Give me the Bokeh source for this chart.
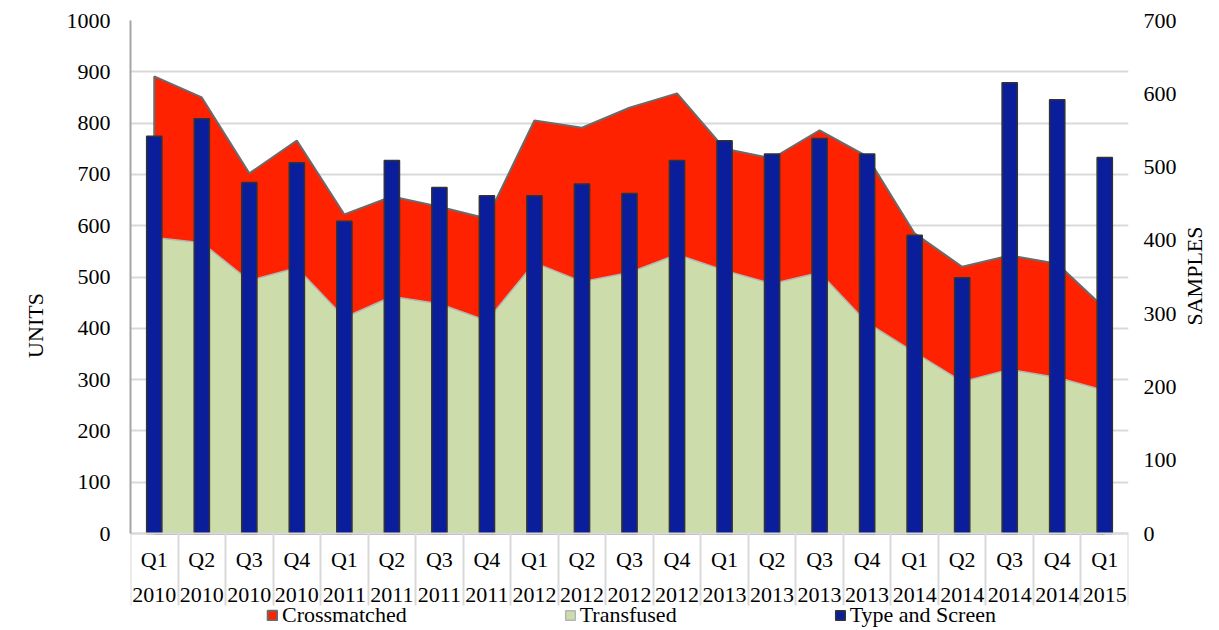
import math
from bokeh.plotting import figure
from bokeh.models import Range1d, LinearAxis, FixedTicker, Legend, LegendItem, Title
from bokeh.embed import file_html
from bokeh.resources import INLINE

quarters = ["Q1", "Q2", "Q3", "Q4", "Q1", "Q2", "Q3", "Q4", "Q1", "Q2", "Q3",
            "Q4", "Q1", "Q2", "Q3", "Q4", "Q1", "Q2", "Q3", "Q4", "Q1"]
years = ["2010", "2010", "2010", "2010", "2011", "2011", "2011", "2011", "2012", "2012", "2012",
         "2012", "2013", "2013", "2013", "2013", "2014", "2014", "2014", "2014", "2015"]
crossmatched = [891, 850, 702, 766, 622, 657, 637, 614, 805, 791, 830,
                858, 750, 731, 786, 735, 585, 520, 542, 526, 439]
transfused = [577, 567, 493, 518, 421, 462, 448, 415, 528, 491, 509,
              544, 513, 487, 509, 411, 353, 296, 320, 304, 279]
type_and_screen = [542, 566, 479, 506, 426, 509, 472, 461, 461, 477, 464,
                   509, 536, 518, 539, 518, 407, 349, 615, 592, 513]

units_ticks = list(range(0, 1001, 100))
samples_ticks = list(range(0, 701, 100))

FONT = "Liberation Serif"
FS = "22px"
n = len(quarters)
x = list(range(1, n + 1))

# the frame reaches below zero so the category labels and legend sit inside it
UNITS_MAX, SAMPLES_MAX = 1000, 700
below = -189
p = figure(frame_width=998, frame_height=610, output_backend="svg", toolbar_location=None,
           x_range=Range1d(0.5, n + 0.5), y_range=Range1d(below, UNITS_MAX),
           min_border_left=130, min_border_right=0, min_border_top=20,
           min_border_bottom=0)
p.extra_y_ranges = {"samples": Range1d(below * SAMPLES_MAX / UNITS_MAX, SAMPLES_MAX)}
p.outline_line_color = None
p.background_fill_color = "white"
p.border_fill_color = "white"

# grid
p.xgrid.visible = False
p.ygrid.grid_line_color = "#d9d9d9"
p.ygrid.grid_line_width = 2
p.ygrid.ticker = FixedTicker(ticks=units_ticks)

# areas
cx = [x[0]] + x + [x[-1]]
cm = p.patch(cx, [0] + crossmatched + [0], fill_color="#ff2200", line_color="#6b6b6b", line_width=2)
tr = p.patch(cx, [0] + transfused + [0], fill_color="#cddcab", line_color="#b4b4b4", line_width=1.5)

# bars
ts = p.vbar(x=x, top=type_and_screen, width=0.32, bottom=0, y_range_name="samples",
            fill_color="#0a1e9c", line_color="#333333", line_width=1.5)


def style_ticks(ax, tick_standoff):
    ax.major_label_text_font = FONT
    ax.major_label_text_font_size = FS
    ax.major_label_text_color = "black"
    ax.major_label_standoff = tick_standoff
    ax.major_tick_line_color = None
    ax.minor_tick_line_color = None
    ax.major_tick_out = 0
    ax.minor_tick_out = 0


# left axis
ya = p.yaxis[0]
ya.ticker = FixedTicker(ticks=units_ticks)
ya.bounds = (0, UNITS_MAX)
style_ticks(ya, 20)
ya.axis_line_color = "#a6a6a6"
ya.axis_line_width = 2
p.add_layout(Title(text="UNITS", align="center", offset=-33, standoff=32,
                   text_font=FONT, text_font_size=FS, text_font_style="normal",
                   text_color="black"), "left")

# right axis
ra = LinearAxis(y_range_name="samples", ticker=FixedTicker(ticks=samples_ticks),
                bounds=(0, SAMPLES_MAX))
style_ticks(ra, 15)
ra.axis_line_color = None
ra.axis_label = "SAMPLES"
ra.axis_label_orientation = math.pi / 2
ra.axis_label_text_font = FONT
ra.axis_label_text_font_size = FS
ra.axis_label_text_font_style = "normal"
ra.axis_label_text_color = "black"
ra.axis_label_standoff = 15
p.add_layout(ra, "right")

# bottom axis at zero (categories with separators)
xa = p.xaxis[0]
xa.fixed_location = 0
xa.ticker = FixedTicker(ticks=x, minor_ticks=[i + 0.5 for i in range(0, n + 1)])
xa.major_label_overrides = {xi: f"{q}\n{yr}" for xi, q, yr in zip(x, quarters, years)}
xa.major_label_text_font = FONT
xa.major_label_text_font_size = FS
xa.major_label_text_color = "black"
xa.major_label_text_line_height = 1.4
xa.major_tick_line_color = None
xa.major_tick_out = 0
xa.major_tick_in = 0
xa.minor_tick_in = 0
xa.minor_tick_out = 72
xa.major_label_standoff = 13 - 72
xa.minor_tick_line_color = "#d9d9d9"
xa.minor_tick_line_width = 2
xa.axis_line_color = "#d9d9d9"
xa.axis_line_width = 2

legend = Legend(items=[LegendItem(label="Crossmatched", renderers=[cm]),
                       LegendItem(label="Transfused", renderers=[tr]),
                       LegendItem(label="Type and Screen", renderers=[ts])],
                orientation="horizontal", location=(136, 2),
                label_text_font=FONT, label_text_font_size=FS, label_text_color="black",
                glyph_width=12, glyph_height=12, spacing=157, padding=0, margin=0,
                label_standoff=4, label_height=20, border_line_color=None,
                background_fill_alpha=0)
p.add_layout(legend, "center")

open("out.html", "w").write(file_html(p, INLINE))
